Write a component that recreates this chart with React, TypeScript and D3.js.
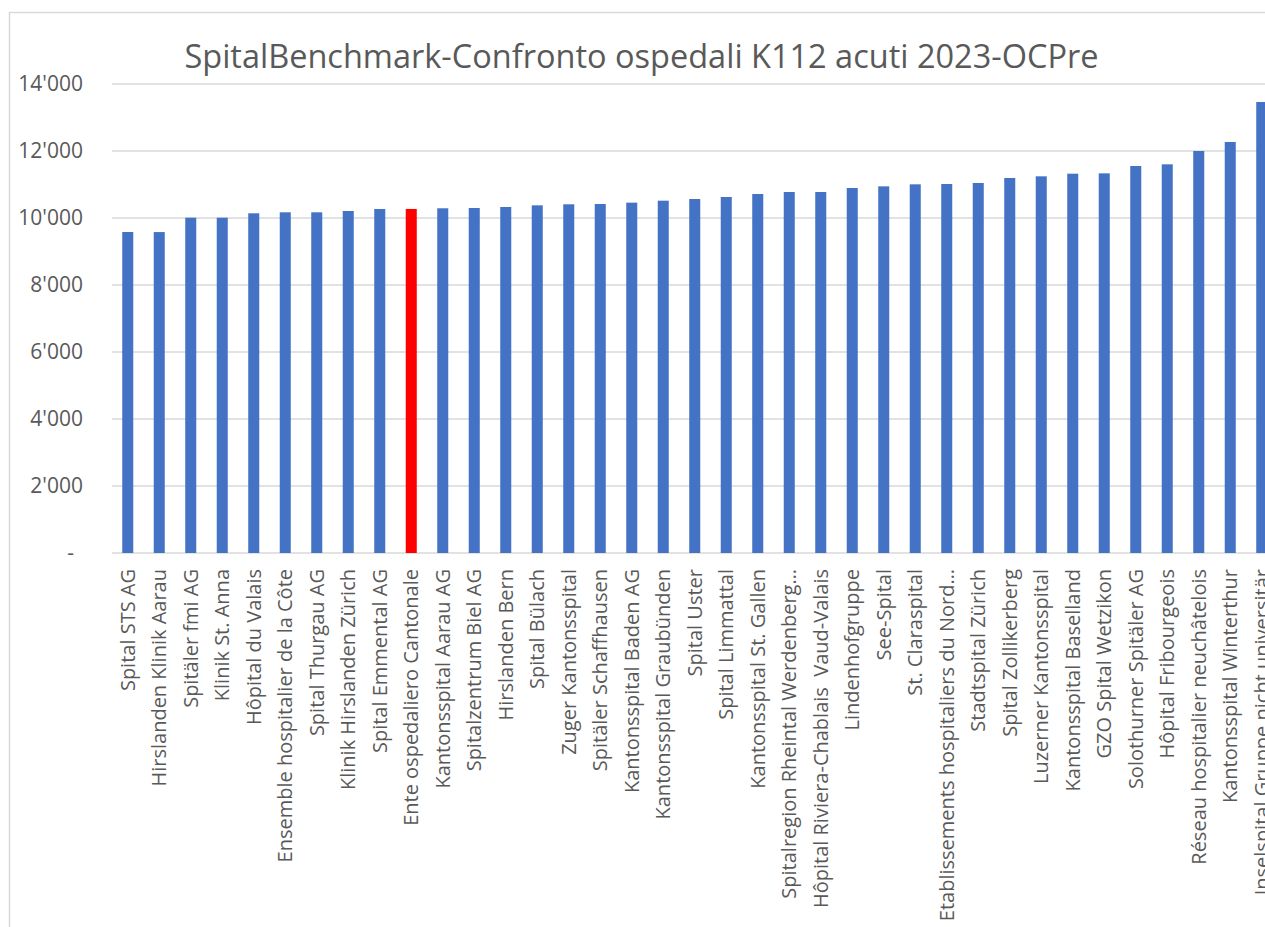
import React from 'react';
import * as d3 from 'd3';

const hospitals = [
  'Spital STS AG', 'Hirslanden Klinik Aarau', 'Spitäler fmi AG', 'Klinik St. Anna',
  'Hôpital du Valais', 'Ensemble hospitalier de la Côte', 'Spital Thurgau AG',
  'Klinik Hirslanden Zürich', 'Spital Emmental AG', 'Ente ospedaliero Cantonale',
  'Kantonsspital Aarau AG', 'Spitalzentrum Biel AG', 'Hirslanden Bern', 'Spital Bülach',
  'Zuger Kantonsspital', 'Spitäler Schaffhausen', 'Kantonsspital Baden AG',
  'Kantonsspital Graubünden', 'Spital Uster', 'Spital Limmattal', 'Kantonsspital St. Gallen',
  'Spitalregion Rheintal Werdenberg…', 'Hôpital Riviera-Chablais  Vaud-Valais',
  'Lindenhofgruppe', 'See-Spital', 'St. Claraspital', 'Etablissements hospitaliers du Nord…',
  'Stadtspital Zürich', 'Spital Zollikerberg', 'Luzerner Kantonsspital',
  'Kantonsspital Baselland', 'GZO Spital Wetzikon', 'Solothurner Spitäler AG',
  'Hôpital Fribourgeois', 'Réseau hospitalier neuchâtelois', 'Kantonsspital Winterthur',
  'Inselspital Gruppe nicht universitär',
];

const costs = [
  9582, 9580, 10009, 10009, 10140, 10170, 10170, 10209, 10269, 10270,
  10290, 10299, 10328, 10378, 10409, 10418, 10458, 10517, 10567, 10627,
  10716, 10776, 10776, 10896, 10945, 11005, 11015, 11045, 11194, 11244,
  11323, 11333, 11552, 11602, 12000, 12269, 13463,
];

const highlighted = 'Ente ospedaliero Cantonale';
const yTicks = [0, 2000, 4000, 6000, 8000, 10000, 12000, 14000];
const title = 'SpitalBenchmark-Confronto ospedali K112 acuti 2023-OCPre';

const W = 1265, H = 927;
const font = '"Open Sans", sans-serif';
const textColor = '#595959';

// Excel-style thousands separator, zero shown as a dash
const fmt = (v: number) => v === 0 ? '-' : d3.format(',')(v).replace(/,/g, "'");

export default function App() {
  const x = d3.scaleBand<string>()
    .domain(hospitals)
    .range([112, 112 + 31.5 * hospitals.length])
    .paddingInner(0.65)
    .paddingOuter(0.325);
  const y = d3.scaleLinear().domain([0, 14000]).range([553, 84]);

  return (
    <svg width={W} height={H} style={{ position: 'absolute', left: 0, top: 0, overflow: 'hidden' }}
      fontFamily={font}>
      <rect x={0} y={0} width={W} height={H} fill="#fff" />
      {/* chart frame, right and bottom edges are outside the picture */}
      <line x1={9.5} x2={9.5} y1={12} y2={H} stroke="#d9d9d9" strokeWidth={1.5} />
      <line x1={9} x2={W} y1={12.5} y2={12.5} stroke="#d9d9d9" strokeWidth={1.5} />

      <text x={641.5} y={67.5} textAnchor="middle" fontSize={32.5} fill={textColor}>{title}</text>

      {yTicks.map(t => (
        <g key={t}>
          <line x1={112} x2={W} y1={y(t)} y2={y(t)} stroke="#d9d9d9" strokeWidth={1.5} />
          <text x={t === 0 ? 74 : 83} y={y(t)} dy="0.35em" textAnchor="end"
            fontSize={21} fill={textColor}>{fmt(t)}</text>
        </g>
      ))}

      {hospitals.map((h, i) => (
        <rect key={h} x={x(h)} y={y(costs[i])} width={x.bandwidth()} height={y(0) - y(costs[i])}
          fill={h === highlighted ? '#ff0000' : '#4472c4'} />
      ))}

      {hospitals.map(h => {
        const cx = (x(h) ?? 0) + x.bandwidth() / 2;
        return (
          <text key={h} transform={`translate(${cx},569) rotate(-90)`} textAnchor="end"
            dy="0.35em" fontSize={20} fill={textColor} style={{ whiteSpace: 'pre' }}>{h}</text>
        );
      })}
    </svg>
  );
}
